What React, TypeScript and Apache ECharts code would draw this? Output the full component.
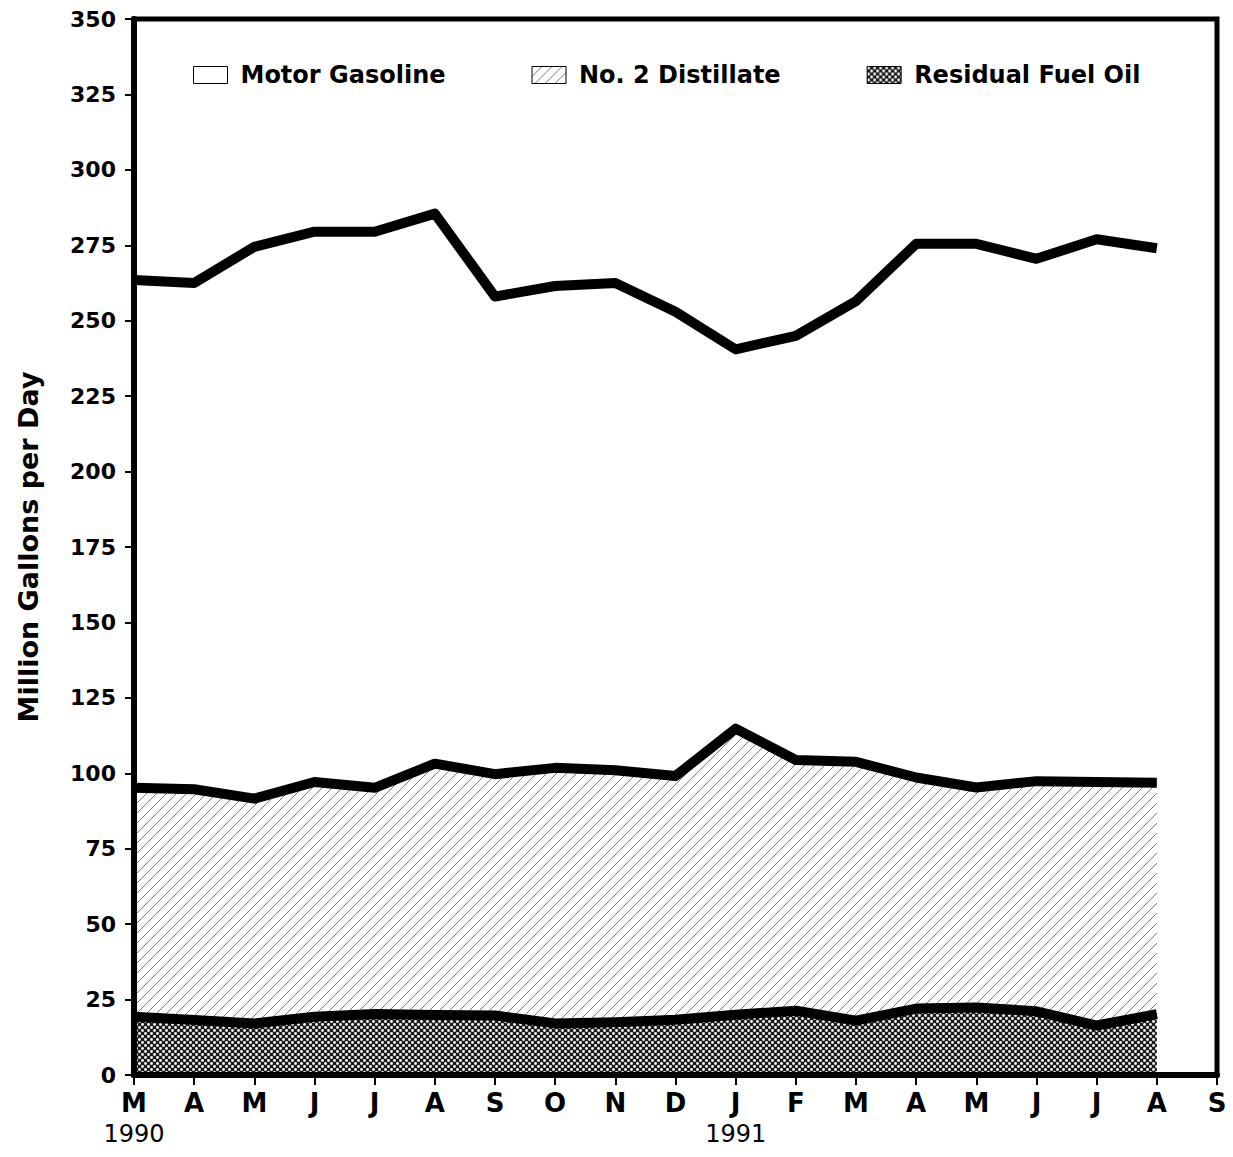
import React, { useEffect, useRef } from "react";
import * as echarts from "echarts";

// Months from March 1990 to September 1991
const categories = [
  "Mar 1990", "Apr 1990", "May 1990", "Jun 1990", "Jul 1990", "Aug 1990", "Sep 1990",
  "Oct 1990", "Nov 1990", "Dec 1990", "Jan 1991", "Feb 1991", "Mar 1991", "Apr 1991",
  "May 1991", "Jun 1991", "Jul 1991", "Aug 1991", "Sep 1991",
];
const monthLetters = ["M", "A", "M", "J", "J", "A", "S", "O", "N", "D", "J", "F", "M", "A", "M", "J", "J", "A", "S"];
const yearLabels = ["1990", "", "", "", "", "", "", "", "", "", "1991", "", "", "", "", "", "", "", ""];

// Million gallons per day (stacked)
const residualFuelOil = [19.3, 18.2, 17.1, 19.3, 20.2, 19.9, 19.7, 17.1, 17.5, 18.3, 20.0, 21.3, 18.0, 22.0, 22.4, 21.1, 16.4, 20.2];
const no2Distillate = [75.9, 76.5, 74.5, 77.8, 75.0, 83.3, 80.0, 84.7, 83.5, 80.8, 94.8, 83.1, 85.8, 76.6, 72.9, 76.3, 80.7, 76.7];
const motorGasoline = [168.3, 167.8, 182.9, 182.4, 184.3, 182.3, 158.3, 159.7, 161.5, 153.9, 125.7, 140.6, 152.7, 176.9, 180.2, 173.1, 179.9, 177.1];

const seriesNames = ["Motor Gasoline", "No. 2 Distillate", "Residual Fuel Oil"];

function svgUrl(svg: string) {
  return "data:image/svg+xml;charset=utf-8," + encodeURIComponent(svg);
}

const hatchPattern = {
  image: svgUrl(
    "<svg xmlns='http://www.w3.org/2000/svg' width='10' height='10'>" +
      "<rect width='10' height='10' fill='#ffffff'/>" +
      "<path d='M0,10 L10,0 M-2,2 L2,-2 M8,12 L12,8' stroke='#777777' stroke-width='1'/>" +
      "</svg>"
  ),
  repeat: "repeat",
  imageWidth: 10,
  imageHeight: 10,
};

const checkerPattern = {
  image: svgUrl(
    "<svg xmlns='http://www.w3.org/2000/svg' width='6' height='6'>" +
      "<rect width='6' height='6' fill='#1a1a1a'/>" +
      "<circle cx='1.5' cy='1.5' r='1.4' fill='#ffffff'/>" +
      "<circle cx='4.5' cy='4.5' r='1.4' fill='#ffffff'/>" +
      "</svg>"
  ),
  repeat: "repeat",
  imageWidth: 6,
  imageHeight: 6,
};

const FONT = "DejaVu Sans";

export default function App() {
  const ref = useRef<HTMLDivElement>(null);

  useEffect(() => {
    if (!ref.current) return;
    const chart = echarts.init(ref.current, null, { renderer: "svg" });
    const lineStyle = { color: "#000", width: 10, join: "round" as const };
    chart.setOption({
      animation: false,
      backgroundColor: "#fff",
      grid: {
        left: 134,
        right: 16,
        top: 19,
        bottom: 82,
        show: true,
        borderColor: "#000",
        borderWidth: 5,
        backgroundColor: "transparent",
      },
      legend: {
        left: 193,
        top: 63,
        padding: 0,
        icon: "rect",
        itemWidth: 34,
        itemHeight: 17,
        itemGap: 86,
        selectedMode: false,
        textStyle: {
          fontFamily: FONT,
          fontSize: 24,
          fontWeight: "bold",
          color: "#000",
          padding: [0, 0, 0, 8],
        },
        data: [
          { name: seriesNames[0], itemStyle: { color: "#fff", borderColor: "#000", borderWidth: 1 } },
          { name: seriesNames[1], itemStyle: { color: hatchPattern, borderColor: "#000", borderWidth: 1 } },
          { name: seriesNames[2], itemStyle: { color: checkerPattern, borderColor: "#000", borderWidth: 1 } },
        ],
      },
      xAxis: {
        type: "category",
        data: categories,
        boundaryGap: false,
        z: 10,
        axisLine: { show: true, lineStyle: { color: "#000", width: 6 } },
        axisTick: { show: true, interval: 0, length: 10, lineStyle: { color: "#000", width: 2 } },
        axisLabel: {
          interval: 0,
          margin: 12,
          color: "#000",
          formatter: (_v: string, i: number) =>
            yearLabels[i] ? `{m|${monthLetters[i]}}\n{y|${yearLabels[i]}}` : `{m|${monthLetters[i]}}`,
          rich: {
            m: { fontFamily: FONT, fontSize: 26, fontWeight: "bold", color: "#000", lineHeight: 31 },
            y: { fontFamily: FONT, fontSize: 24, fontWeight: "normal", color: "#000", lineHeight: 31 },
          },
          verticalAlign: "top",
        },
        splitLine: { show: false },
      },
      yAxis: {
        type: "value",
        min: 0,
        max: 350,
        interval: 25,
        z: 10,
        name: "Million Gallons per Day",
        nameLocation: "middle",
        nameRotate: 90,
        nameGap: 92,
        nameTextStyle: { fontFamily: FONT, fontSize: 27, fontWeight: "bold", color: "#000" },
        axisLine: { show: true, lineStyle: { color: "#000", width: 6 } },
        axisTick: { show: true, length: 9, lineStyle: { color: "#000", width: 2 } },
        axisLabel: { fontFamily: FONT, fontSize: 22, fontWeight: "bold", color: "#000", margin: 18 },
        splitLine: { show: false },
      },
      series: [
        {
          name: seriesNames[2],
          type: "line",
          stack: "total",
          z: 5,
          showSymbol: false,
          symbol: "none",
          data: residualFuelOil,
          itemStyle: { color: "#000" },
          lineStyle,
          areaStyle: { color: checkerPattern, opacity: 1 },
        },
        {
          name: seriesNames[1],
          type: "line",
          stack: "total",
          z: 4,
          showSymbol: false,
          symbol: "none",
          data: no2Distillate,
          itemStyle: { color: "#000" },
          lineStyle,
          areaStyle: { color: hatchPattern, opacity: 1 },
        },
        {
          name: seriesNames[0],
          type: "line",
          stack: "total",
          z: 3,
          showSymbol: false,
          symbol: "none",
          data: motorGasoline,
          itemStyle: { color: "#000" },
          lineStyle,
        },
      ],
    });
    return () => chart.dispose();
  }, []);

  return (
    <div
      ref={ref}
      style={{ position: "absolute", left: 0, top: 0, width: 1233, height: 1157, background: "#fff" }}
    />
  );
}
